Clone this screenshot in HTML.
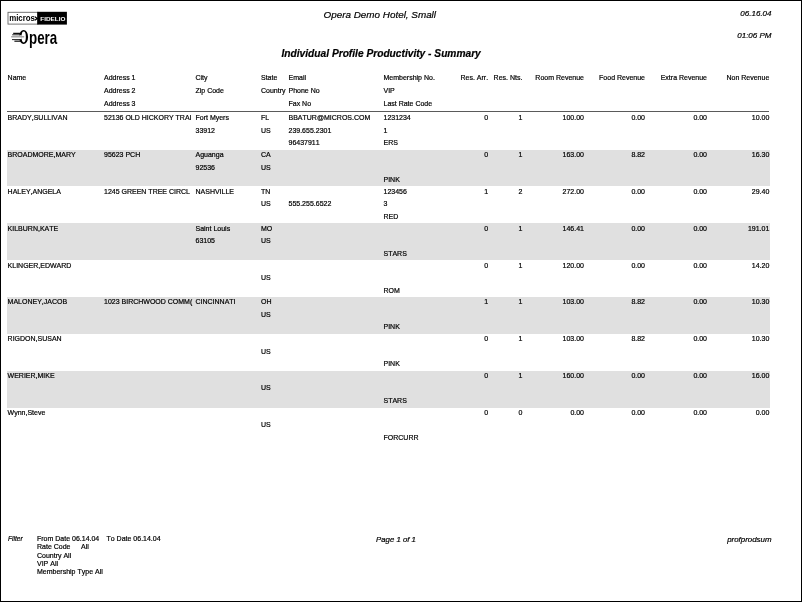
<!DOCTYPE html>
<html><head><meta charset="utf-8"><title>Individual Profile Productivity - Summary</title>
<style>
html,body{margin:0;padding:0;background:#fff;}
body{width:802px;height:602px;position:relative;overflow:hidden;font-family:"Liberation Sans",sans-serif;color:#000;font-kerning:none;}
#L{position:absolute;left:0;top:0;width:802px;height:602px;will-change:transform;}
#frame{position:absolute;left:0;top:0;width:800px;height:600px;border:1px solid #000;}
.t{position:absolute;font-size:7.0px;line-height:10px;white-space:pre;color:#000;-webkit-text-stroke:0.2px #000;}
.r{width:200px;text-align:right;}
.band{position:absolute;left:7px;width:763px;background:#e0e0e0;}
.rule{position:absolute;left:7px;width:762px;top:111px;height:1px;background:#5a5a5a;}
.i{font-style:italic;}
.abs{position:absolute;white-space:pre;-webkit-text-stroke:0.2px #000;}
</style></head><body>
<div id="frame"></div>
<div id="L">
<svg style="position:absolute;left:0;top:0" width="80" height="56" viewBox="0 0 80 56">
<rect x="8" y="12.3" width="30" height="11.8" fill="#fff" stroke="#666" stroke-width="0.9"/>
<rect x="37.2" y="11.8" width="29.7" height="12.8" fill="#000"/>
<text x="9.2" y="20.75" font-family="'Liberation Sans',sans-serif" font-weight="bold" font-size="9.4" fill="#000" textLength="25.8" lengthAdjust="spacingAndGlyphs">micros</text>
<path d="M34.8 15.9 L38.3 18.4 L34.8 20.9 L34.8 19.4 L36.3 18.4 L34.8 17.4 Z" fill="#000"/>
<text x="40.3" y="20.8" font-family="'Liberation Sans',sans-serif" font-weight="bold" font-size="5.7" fill="#fff" textLength="25.2" lengthAdjust="spacingAndGlyphs">FIDELIO</text>
<path fill-rule="evenodd" fill="#000" d="M23.6 30 A4.5 7 0 1 1 23.6 44 A4.5 7 0 1 1 23.6 30 Z M23.7 31.6 A2.15 5.4 0 1 0 23.7 42.4 A2.15 5.4 0 1 0 23.7 31.6 Z"/>
<rect x="11" y="35.3" width="10.75" height="3.8" fill="#fff"/>
<g stroke="#111" stroke-width="1.1"><line x1="13.2" y1="33.4" x2="20.5" y2="33.4" stroke-width="1.3"/><line x1="12.2" y1="34.8" x2="20" y2="34.8" stroke="#222" stroke-width="1.0"/><line x1="11.2" y1="36.8" x2="24.2" y2="36.8" stroke="#999" stroke-width="1.3"/><line x1="12" y1="39.6" x2="20.5" y2="39.6" stroke="#222" stroke-width="1.0"/><line x1="14.4" y1="41.2" x2="21" y2="41.2" stroke-width="1.2"/></g>
<text x="29.05" y="43.75" font-family="'Liberation Sans',sans-serif" font-weight="bold" font-size="19" fill="#000" textLength="28.2" lengthAdjust="spacingAndGlyphs">pera</text>
</svg>
<div class="abs i" style="left:323.5px;top:7.5px;font-size:9.9px;line-height:14px;">Opera Demo Hotel, Small</div>
<div class="abs i" style="left:281.5px;top:47px;font-size:10.2px;line-height:14px;font-weight:bold;">Individual Profile Productivity - Summary</div>
<div class="abs i" style="left:571.5px;width:200px;text-align:right;top:9px;font-size:8px;line-height:10px;">06.16.04</div>
<div class="abs i" style="left:571.5px;width:200px;text-align:right;top:31px;font-size:8px;line-height:10px;">01:06 PM</div>
<div class="rule"></div>
<div class="band" style="top:149.55px;height:36.9px"></div>
<div class="band" style="top:223.25px;height:36.9px"></div>
<div class="band" style="top:296.95px;height:36.9px"></div>
<div class="band" style="top:370.65px;height:36.9px"></div>
<div class="t " style="left:7.60px;top:72.50px;">Name</div>
<div class="t " style="left:104.00px;top:72.50px;">Address 1</div>
<div class="t " style="left:104.00px;top:85.50px;">Address 2</div>
<div class="t " style="left:104.00px;top:98.50px;">Address 3</div>
<div class="t " style="left:195.50px;top:72.50px;">City</div>
<div class="t " style="left:195.50px;top:85.50px;">Zip Code</div>
<div class="t " style="left:261.00px;top:72.50px;">State</div>
<div class="t " style="left:261.00px;top:85.50px;">Country</div>
<div class="t " style="left:288.50px;top:72.50px;">Email</div>
<div class="t " style="left:288.50px;top:85.50px;">Phone No</div>
<div class="t " style="left:288.50px;top:98.50px;">Fax No</div>
<div class="t " style="left:383.50px;top:72.50px;">Membership No.</div>
<div class="t " style="left:383.50px;top:85.50px;">VIP</div>
<div class="t " style="left:383.50px;top:98.50px;">Last Rate Code</div>
<div class="t r " style="left:288.10px;top:72.50px;">Res. Arr.</div>
<div class="t r " style="left:322.40px;top:72.50px;">Res. Nts.</div>
<div class="t r " style="left:384.00px;top:72.50px;">Room Revenue</div>
<div class="t r " style="left:445.00px;top:72.50px;">Food Revenue</div>
<div class="t r " style="left:507.00px;top:72.50px;">Extra Revenue</div>
<div class="t r " style="left:569.30px;top:72.50px;">Non Revenue</div>
<div class="t " style="left:7.60px;top:112.50px;">BRADY,SULLIVAN</div>
<div class="t " style="left:104.00px;top:112.50px;width:88.5px;overflow:hidden;">52136 OLD HICKORY TRAI</div>
<div class="t " style="left:195.50px;top:112.50px;">Fort Myers</div>
<div class="t " style="left:195.50px;top:125.50px;">33912</div>
<div class="t " style="left:261.00px;top:112.50px;">FL</div>
<div class="t " style="left:261.00px;top:125.50px;">US</div>
<div class="t " style="left:288.50px;top:112.50px;">BBATUR@MICROS.COM</div>
<div class="t " style="left:288.50px;top:125.50px;">239.655.2301</div>
<div class="t " style="left:288.50px;top:137.50px;">96437911</div>
<div class="t " style="left:383.50px;top:112.50px;">1231234</div>
<div class="t " style="left:383.50px;top:125.50px;">1</div>
<div class="t " style="left:383.50px;top:137.50px;">ERS</div>
<div class="t r " style="left:288.10px;top:112.50px;">0</div>
<div class="t r " style="left:322.40px;top:112.50px;">1</div>
<div class="t r " style="left:384.00px;top:112.50px;">100.00</div>
<div class="t r " style="left:445.00px;top:112.50px;">0.00</div>
<div class="t r " style="left:507.00px;top:112.50px;">0.00</div>
<div class="t r " style="left:569.30px;top:112.50px;">10.00</div>
<div class="t " style="left:7.60px;top:149.50px;">BROADMORE,MARY</div>
<div class="t " style="left:104.00px;top:149.50px;width:88.5px;overflow:hidden;">95623 PCH</div>
<div class="t " style="left:195.50px;top:149.50px;">Aguanga</div>
<div class="t " style="left:195.50px;top:162.50px;">92536</div>
<div class="t " style="left:261.00px;top:149.50px;">CA</div>
<div class="t " style="left:261.00px;top:162.50px;">US</div>
<div class="t " style="left:383.50px;top:174.50px;">PINK</div>
<div class="t r " style="left:288.10px;top:149.50px;">0</div>
<div class="t r " style="left:322.40px;top:149.50px;">1</div>
<div class="t r " style="left:384.00px;top:149.50px;">163.00</div>
<div class="t r " style="left:445.00px;top:149.50px;">8.82</div>
<div class="t r " style="left:507.00px;top:149.50px;">0.00</div>
<div class="t r " style="left:569.30px;top:149.50px;">16.30</div>
<div class="t " style="left:7.60px;top:186.50px;">HALEY,ANGELA</div>
<div class="t " style="left:104.00px;top:186.50px;width:88.5px;overflow:hidden;">1245 GREEN TREE CIRCL</div>
<div class="t " style="left:195.50px;top:186.50px;">NASHVILLE</div>
<div class="t " style="left:261.00px;top:186.50px;">TN</div>
<div class="t " style="left:261.00px;top:198.50px;">US</div>
<div class="t " style="left:288.50px;top:198.50px;">555.255.6522</div>
<div class="t " style="left:383.50px;top:186.50px;">123456</div>
<div class="t " style="left:383.50px;top:198.50px;">3</div>
<div class="t " style="left:383.50px;top:211.50px;">RED</div>
<div class="t r " style="left:288.10px;top:186.50px;">1</div>
<div class="t r " style="left:322.40px;top:186.50px;">2</div>
<div class="t r " style="left:384.00px;top:186.50px;">272.00</div>
<div class="t r " style="left:445.00px;top:186.50px;">0.00</div>
<div class="t r " style="left:507.00px;top:186.50px;">0.00</div>
<div class="t r " style="left:569.30px;top:186.50px;">29.40</div>
<div class="t " style="left:7.60px;top:223.50px;">KILBURN,KATE</div>
<div class="t " style="left:195.50px;top:223.50px;">Saint Louis</div>
<div class="t " style="left:195.50px;top:235.50px;">63105</div>
<div class="t " style="left:261.00px;top:223.50px;">MO</div>
<div class="t " style="left:261.00px;top:235.50px;">US</div>
<div class="t " style="left:383.50px;top:248.50px;">STARS</div>
<div class="t r " style="left:288.10px;top:223.50px;">0</div>
<div class="t r " style="left:322.40px;top:223.50px;">1</div>
<div class="t r " style="left:384.00px;top:223.50px;">146.41</div>
<div class="t r " style="left:445.00px;top:223.50px;">0.00</div>
<div class="t r " style="left:507.00px;top:223.50px;">0.00</div>
<div class="t r " style="left:569.30px;top:223.50px;">191.01</div>
<div class="t " style="left:7.60px;top:260.50px;">KLINGER,EDWARD</div>
<div class="t " style="left:261.00px;top:272.50px;">US</div>
<div class="t " style="left:383.50px;top:285.50px;">ROM</div>
<div class="t r " style="left:288.10px;top:260.50px;">0</div>
<div class="t r " style="left:322.40px;top:260.50px;">1</div>
<div class="t r " style="left:384.00px;top:260.50px;">120.00</div>
<div class="t r " style="left:445.00px;top:260.50px;">0.00</div>
<div class="t r " style="left:507.00px;top:260.50px;">0.00</div>
<div class="t r " style="left:569.30px;top:260.50px;">14.20</div>
<div class="t " style="left:7.60px;top:296.50px;">MALONEY,JACOB</div>
<div class="t " style="left:104.00px;top:296.50px;width:88.5px;overflow:hidden;">1023 BIRCHWOOD COMM(</div>
<div class="t " style="left:195.50px;top:296.50px;">CINCINNATI</div>
<div class="t " style="left:261.00px;top:296.50px;">OH</div>
<div class="t " style="left:261.00px;top:309.50px;">US</div>
<div class="t " style="left:383.50px;top:321.50px;">PINK</div>
<div class="t r " style="left:288.10px;top:296.50px;">1</div>
<div class="t r " style="left:322.40px;top:296.50px;">1</div>
<div class="t r " style="left:384.00px;top:296.50px;">103.00</div>
<div class="t r " style="left:445.00px;top:296.50px;">8.82</div>
<div class="t r " style="left:507.00px;top:296.50px;">0.00</div>
<div class="t r " style="left:569.30px;top:296.50px;">10.30</div>
<div class="t " style="left:7.60px;top:333.50px;">RIGDON,SUSAN</div>
<div class="t " style="left:261.00px;top:346.50px;">US</div>
<div class="t " style="left:383.50px;top:358.50px;">PINK</div>
<div class="t r " style="left:288.10px;top:333.50px;">0</div>
<div class="t r " style="left:322.40px;top:333.50px;">1</div>
<div class="t r " style="left:384.00px;top:333.50px;">103.00</div>
<div class="t r " style="left:445.00px;top:333.50px;">8.82</div>
<div class="t r " style="left:507.00px;top:333.50px;">0.00</div>
<div class="t r " style="left:569.30px;top:333.50px;">10.30</div>
<div class="t " style="left:7.60px;top:370.50px;">WERIER,MIKE</div>
<div class="t " style="left:261.00px;top:382.50px;">US</div>
<div class="t " style="left:383.50px;top:395.50px;">STARS</div>
<div class="t r " style="left:288.10px;top:370.50px;">0</div>
<div class="t r " style="left:322.40px;top:370.50px;">1</div>
<div class="t r " style="left:384.00px;top:370.50px;">160.00</div>
<div class="t r " style="left:445.00px;top:370.50px;">0.00</div>
<div class="t r " style="left:507.00px;top:370.50px;">0.00</div>
<div class="t r " style="left:569.30px;top:370.50px;">16.00</div>
<div class="t " style="left:7.60px;top:407.50px;">Wynn,Steve</div>
<div class="t " style="left:261.00px;top:419.50px;">US</div>
<div class="t " style="left:383.50px;top:432.50px;">FORCURR</div>
<div class="t r " style="left:288.10px;top:407.50px;">0</div>
<div class="t r " style="left:322.40px;top:407.50px;">0</div>
<div class="t r " style="left:384.00px;top:407.50px;">0.00</div>
<div class="t r " style="left:445.00px;top:407.50px;">0.00</div>
<div class="t r " style="left:507.00px;top:407.50px;">0.00</div>
<div class="t r " style="left:569.30px;top:407.50px;">0.00</div>
<div class="t i" style="left:8px;top:533.50px;font-size:6.6px;">Filter</div>
<div class="t" style="left:37px;top:533.50px;">From Date 06.14.04</div>
<div class="t" style="left:106.5px;top:533.50px;">To Date 06.14.04</div>
<div class="t" style="left:37px;top:541.50px;">Rate Code</div>
<div class="t" style="left:81px;top:541.50px;">All</div>
<div class="t" style="left:37px;top:550.50px;">Country All</div>
<div class="t" style="left:37px;top:558.50px;">VIP All</div>
<div class="t" style="left:37px;top:566.50px;">Membership Type All</div>
<div class="abs i" style="left:296px;width:200px;text-align:center;top:534.76px;font-size:7.8px;line-height:10px;">Page 1 of 1</div>
<div class="abs i" style="left:571.5px;width:200px;text-align:right;top:534.76px;font-size:7.9px;line-height:10px;">profprodsum</div>
</div>
</body></html>
